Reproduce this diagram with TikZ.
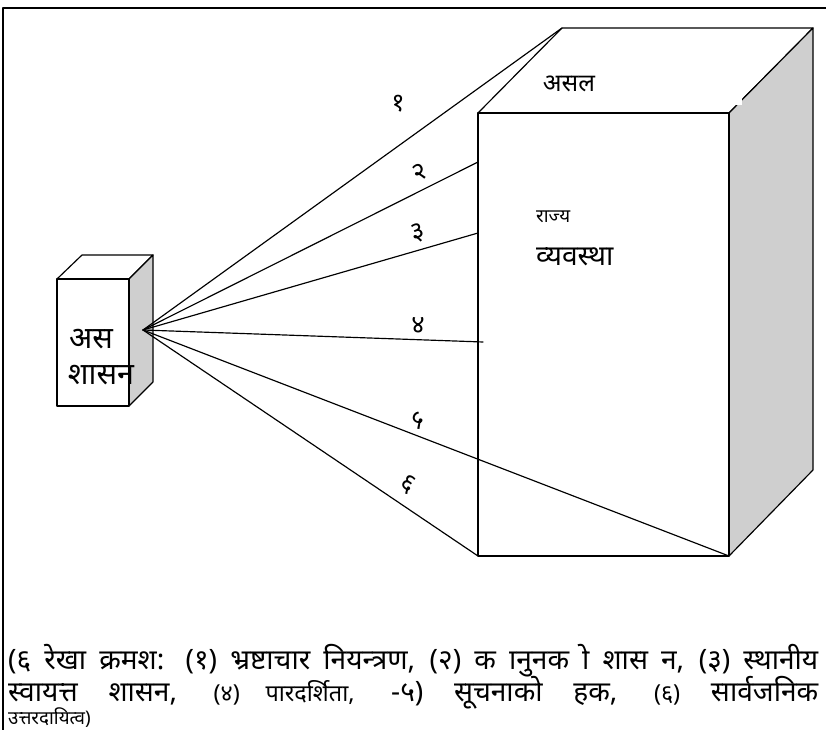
\documentclass[tikz,border=0pt]{standalone}
\usepackage{fontspec}
\newfontfamily\deva[Script=Devanagari]{Noto Sans}
\newfontfamily\devaraw[Script=Latin]{Noto Sans}
\begin{document}
\begin{tikzpicture}[x=0.03cm,y=-0.03cm,line join=round,line cap=round,font=\deva\fontsize{24}{28}\selectfont,
  face/.style={draw,line width=1pt,fill=white},
  side/.style={draw,line width=1pt,fill=black!19},
  ray/.style={line width=1pt},
  num/.style={font=\deva\fontsize{22}{24}\selectfont}]
\useasboundingbox (0,0) rectangle (826,730);
\draw[line width=1.4pt] (3,730) -- (3,8) -- (826,8);
\coordinate (sa) at (57,279);  \coordinate (sb) at (129,279);
\coordinate (sc) at (129,406); \coordinate (sd) at (57,406);
\coordinate (se) at (82,255);  \coordinate (sf) at (153,255);
\coordinate (sg) at (153,382);
\draw[face] (sa) -- (se) -- (sf) -- (sb) -- cycle;
\draw[side] (sb) -- (sf) -- (sg) -- (sc) -- cycle;
\draw[face] (sa) rectangle (sc);
\coordinate (ba) at (478,113); \coordinate (bb) at (729,113);
\coordinate (bc) at (729,556); \coordinate (bd) at (478,556);
\coordinate (be) at (562,28);  \coordinate (bf) at (813,28);
\coordinate (bg) at (813,470);
\draw[face] (ba) -- (be) -- (bf) -- (bb) -- cycle;
\draw[side] (bb) -- (bf) -- (bg) -- (bc) -- cycle;
\draw[face] (ba) rectangle (bc);
\fill[white] (734,97) rectangle (742,105);
\coordinate (hub) at (143,330);
\coordinate (t2) at (478,162);
\coordinate (t3) at (478,233);
\coordinate (t4) at (483,342);
\draw[ray] (hub) -- (be);
\draw[ray] (hub) -- (t2);
\draw[ray] (hub) -- (t3);
\draw[ray] (hub) -- (t4);
\draw[ray] (hub) -- (bc);
\draw[ray] (hub) -- (bd);
\node[num] (n1) at (398,104) {१};
\node[num,rotate=27] (n2) at (420,172) {२};
\node[num,rotate=16] (n3) at (418,233) {३};
\node[num] (n4) at (418,325) {४};
\node[num,rotate=-21] (n5) at (418,420) {५};
\node[num,rotate=-34] (n6) at (408,484) {६};
\node[font=\deva\fontsize{21}{24}\selectfont] (asal) at (569,84) {असल};
\node[anchor=west,font=\deva\fontsize{16}{18}\selectfont] (rajya) at (532,217) {राज्य};
\node[anchor=west] (vyavastha) at (532,257) {व्यवस्था};
\node[font=\deva\fontsize{26}{30}\selectfont] (as) at (91,339) {अस};
\node[font=\deva\fontsize{26}{30}\selectfont] (shasan) at (101,375) {शासन};
\node[anchor=base west,inner sep=0pt] (cap1) at (8,669)
  {\makebox[24.3cm][s]{(६ रेखा क्रमश: (१) भ्रष्टाचार नियन्त्रण, (२) क {\devaraw ा}नुनक {\devaraw ो} शास न, (३) स्थानीय}};
\node[anchor=base west,inner sep=0pt] (cap2) at (8,701)
  {\makebox[24.3cm][s]{स्वायत्त शासन, {\fontsize{20}{24}\selectfont(४) पारदर्शिता,} -५) सूचनाको हक, {\fontsize{20}{24}\selectfont(६)} सार्वजनिक}};
\node[anchor=base west,inner sep=0pt,font=\deva\fontsize{16}{18}\selectfont] (cap3) at (8,724) {उत्तरदायित्व)};
\end{tikzpicture}
\end{document}
